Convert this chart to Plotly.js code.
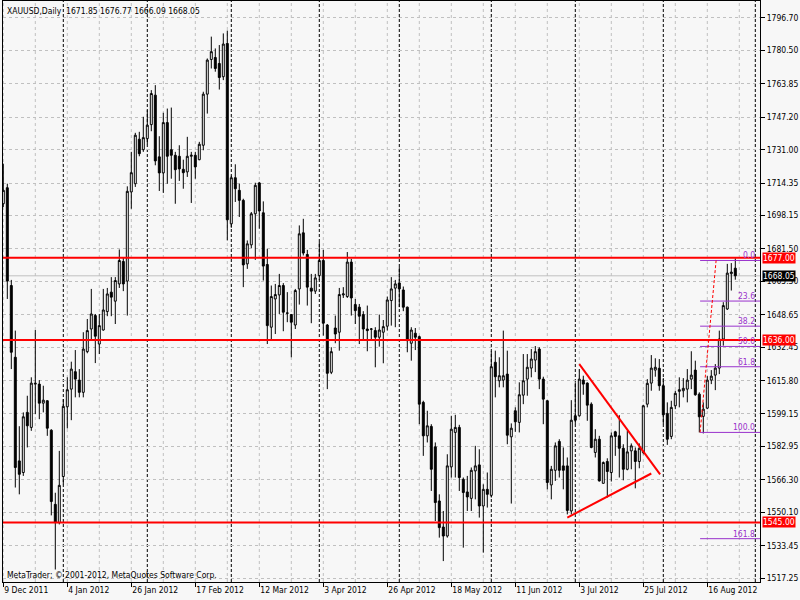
<!DOCTYPE html>
<html>
<head>
<meta charset="utf-8">
<script src="https://cdn.plot.ly/plotly-3.0.1.min.js"></script>
<style>
  html, body { margin: 0; padding: 0; background: #f7f7f7; }
  #chart { width: 800px; height: 600px; }
</style>
</head>
<body>
<div id="chart"></div>
<script>
// ---------------- DATA ----------------
const opens = [1704,1712,1663.2,1627.4,1575.7,1569.9,1599.9,1592.4,1614,1614,1604.5,1605.7,1591,1554,1544.9,1567.9,1602.7,1611.5,1620.2,1616,
1609.9,1630.2,1641.5,1648.2,1634,1641,1650.2,1659.9,1655.4,1664,1675.2,1665.4,1709.9,1714,1736.2,1731,1736.5,1743.5,1758.2,1727.4,
1719.4,1744.5,1731,1728.2,1727.7,1721.2,1719.9,1727.7,1728.2,1726,1733.2,1758.7,1776,1777,1774,1767.4,1784,1694,1717,1710.7,
1705.7,1674,1683.5,1699,1714.4,1699.5,1673.7,1642.4,1656.5,1658.5,1663.2,1649.5,1648.7,1643.5,1661.5,1689.5,1678.7,1661.9,1660.4,1668.2,
1675.7,1643.5,1619.9,1642,1639.9,1658.5,1657.7,1674.9,1653.7,1652.4,1648.7,1641.5,1641.4,1640.7,1637.4,1639.9,1642.9,1655.7,1661.9,1664.5,
1661,1652.4,1634.4,1639.4,1637.7,1604.9,1588.2,1592.9,1582.7,1555.7,1542.7,1538.2,1572.7,1589.9,1592.4,1566.5,1560.2,1557,1570.7,1573.7,
1553.2,1561.5,1558.5,1624.9,1615.7,1616,1619,1587.7,1600.7,1594.9,1608.5,1616.5,1622,1626,1631.5,1616.5,1605.7,1563.7,1571,1585.4,
1573.2,1573.2,1550.7,1598.2,1598.2,1616,1614.5,1604,1579.9,1586.5,1564.5,1575.4,1569.9,1590.2,1588.2,1582,1571.5,1580.7,1580.7,1575.4,
1579.9,1604,1614.5,1621,1621.9,1613.2,1599.4,1587.9,1603.2,1610.4,1610.7,1611.5,1616.5,1621,1609,1597.9,1602,1616,1618.5,1622,
1636.5,1651.5,1669.1,1671.85];
const highs = [1724,1714,1666,1640.7,1593,1599.9,1608.2,1617.4,1641,1616,1613.2,1606,1591.5,1559.8,1580.7,1606.5,1617.4,1625.2,1631,1621.5,
1639.9,1646.5,1661.5,1649,1649,1661.5,1662,1667.4,1667.4,1681.2,1677.4,1712.7,1729.9,1739.4,1739.9,1747.4,1750.7,1760.7,1763.2,1737.7,
1749.4,1751.5,1752,1729.9,1733.2,1726,1737.4,1729.9,1729.9,1734.9,1759.9,1776.5,1787.4,1781.5,1783.2,1789,1790.4,1718,1723.7,1714,
1706.5,1685.7,1699.9,1714.5,1714.9,1705.2,1681.5,1663.2,1664,1669,1664.4,1659.9,1649,1661.5,1693.2,1696.5,1681,1669,1669,1684.9,
1681,1644,1632.4,1648.2,1662,1662.4,1679.9,1676.5,1656.5,1654,1650.4,1653.2,1642,1642.4,1648.7,1646,1657.7,1667.4,1666,1672.4,
1662.7,1652.7,1642.4,1642,1638.2,1605.7,1600.7,1594,1584.9,1559,1550.7,1579,1598.2,1598.7,1593.7,1567.4,1568.2,1572.4,1583.2,1581.5,
1564,1569.9,1630.4,1630.7,1627.4,1640.7,1630.7,1594.4,1602.4,1614.9,1629,1629,1631.5,1633,1632.4,1617.7,1606,1573.2,1584.9,1586.5,
1582.4,1577.4,1606,1614.9,1621.5,1618.2,1614.9,1604.9,1591.5,1588.2,1575.4,1577,1589.9,1590.7,1598.5,1584,1590.7,1584.4,1582.4,1584.4,
1603.7,1616.5,1628.5,1626.9,1626.5,1617,1604.9,1605.7,1610.7,1617.4,1617,1621.5,1630.4,1625.7,1609.9,1604.9,1618,1621,1624,1640.7,
1654.9,1674,1674.4,1676.77];
const lows = [1702.4,1656.5,1621.5,1562.4,1559,1568.2,1582.4,1590.7,1599,1596.5,1599.9,1588.2,1548.5,1521.5,1544,1564,1591.9,1596,1607.4,1607.4,
1607.4,1629.4,1636.5,1624.5,1629,1640.7,1647.9,1647.9,1644,1662,1660.4,1648.2,1701.5,1712.4,1727.7,1729.9,1733.7,1740.2,1723.2,1710.4,
1709.4,1714,1716.5,1704,1715.4,1711.5,1717.4,1704.4,1716.5,1725.7,1730.7,1749,1771.5,1769.9,1761,1765.7,1685.7,1692,1704.9,1697.4,
1662.4,1671.5,1681.9,1676,1691.5,1665.7,1634,1635.7,1639,1649,1640.4,1644.9,1627.4,1641.5,1653.7,1678.2,1653.2,1644.4,1659,1666,
1638.2,1611.5,1619,1634.4,1630.7,1657,1657,1648.2,1644,1634,1636.5,1630.4,1636.5,1622.4,1632.7,1624.4,1640.7,1643.2,1642.4,1652.4,
1650.4,1629.9,1625.7,1631,1594,1578.2,1584.9,1560.7,1545.7,1537.4,1525.7,1537.4,1567.4,1567.4,1560.7,1532.4,1550.7,1550.7,1556.5,1547.4,
1529.9,1552.4,1557.4,1607.4,1612.4,1612.4,1584,1554.4,1590.2,1589.9,1604,1608.2,1617.4,1620,1611.5,1594,1561.5,1556.5,1565.7,1567.4,
1561.5,1549,1549,1594,1597.7,1608.7,1595.7,1582,1577.4,1565.4,1564.4,1557.4,1565.4,1578.2,1567.4,1566,1571,1571.5,1562,1572,
1579,1602.4,1610.7,1617.7,1610.7,1594,1583.7,1586.5,1601.5,1602.4,1607.4,1604.9,1611.5,1608.2,1589.9,1589.4,1601.5,1614,1611,1619,
1633.2,1651,1660.7,1666.09];
const closes = [1710.7,1665.4,1629.9,1572.4,1569,1597.7,1593.2,1614.5,1614.4,1604.5,1606,1592,1555.4,1544.9,1563.5,1602.9,1611.2,1621.5,1616.5,1609.9,
1631.5,1640.7,1649,1637.9,1643.2,1651,1659,1657.4,1665.7,1675.7,1664,1710.2,1719.5,1738.2,1729,1737,1743.2,1759,1725.4,1719.4,
1744.5,1727.7,1728.2,1721,1721.4,1719.5,1727.7,1728.2,1722.4,1733.7,1758.7,1775.7,1779.9,1771.5,1767,1783.7,1696,1717,1711.5,1705.7,
1673.5,1684,1699,1713.2,1700.4,1672.9,1643.2,1657.7,1658.7,1663.2,1649.9,1649.4,1644.9,1660.7,1689,1679.4,1662.4,1660.4,1667,1675.7,
1644.4,1619.4,1630.2,1639,1658.7,1659,1674.9,1657,1650.7,1647.9,1641.5,1640.7,1641.5,1637.4,1641,1642.7,1656,1661.5,1664,1661.5,
1652.4,1635.7,1641,1637.4,1604,1588.2,1593.2,1571.5,1554.9,1542.4,1538.2,1573.2,1591.5,1592.4,1567.4,1559.9,1557.7,1571,1573.2,1553.2,
1561.5,1559,1622.7,1617.7,1618.2,1618.2,1588.5,1592,1595.2,1608.7,1615.7,1622.4,1626.5,1630.2,1616.5,1606.5,1564.9,1571.5,1583.2,1571,
1571,1551,1596,1596,1616.5,1614,1603.5,1582.4,1586.5,1565.7,1574.9,1570.4,1588.2,1587.9,1582,1571.5,1580.2,1583.2,1575.4,1582,
1603.2,1614.4,1622,1622.4,1613.2,1598.7,1586.5,1602.4,1609.4,1611.2,1611.9,1616,1618.5,1608.7,1597.7,1601.5,1616,1618,1622,1636.5,
1653.2,1669.4,1669.9,1668.05];

// x-axis date labels (every 16 bars, starting at bar 0)
const dateLabels = ["9 Dec 2011","4 Jan 2012","26 Jan 2012","17 Feb 2012","12 Mar 2012","3 Apr 2012",
                    "26 Apr 2012","18 May 2012","11 Jun 2012","3 Jul 2012","25 Jul 2012","16 Aug 2012"];
const dateLabelBars = [0,16,32,48,64,80,96,112,128,144,160,176];
// bar indices where a new month starts (period separators)
const monthStartBars = [15,36,57,79,99,122,143,165,188];
// price-axis tick labels
const priceTicks = [1796.70,1780.50,1763.85,1747.20,1731.00,1714.35,1698.15,1681.50,1665.30,1648.65,
                    1632.45,1615.80,1599.15,1582.95,1566.30,1550.10,1533.45,1517.25];
// horizontal support / resistance levels
const levels = [1677.00, 1636.00, 1545.00];
const bidPrice = 1668.05;
// triangle trend lines: [bar0, price0, bar1, price1]
const trendLines = [[144.0, 1624.0, 164.2, 1569.0], [141.0, 1547.4, 162.0, 1569.4]];
// fibonacci retracement
const fibLow = 1589.9, fibHigh = 1675.7;
const fibLowBar = 174.2, fibHighBar = 178.2;
const fibRatios = [0, 23.6, 38.2, 50.0, 61.8, 100.0, 161.8];
const fibLabels = ["0.0","23.6","38.2","50.0","61.8","100.0","161.8"];
const titleText = "XAUUSD,Daily  1671.85 1676.77 1666.09 1668.05";
const copyrightText = "MetaTrader; © 2001-2012, MetaQuotes Software Corp.";

// ---------------- FONT PICK (narrow face so labels fit like the original) ----------------
function measure(font, txt) {
  const c = document.createElement('canvas').getContext('2d');
  c.font = font; return c.measureText(txt).width;
}
function installed(name) {
  const t = 'mmmmmwwwiii1796.70';
  return ['monospace', 'serif'].some(fb => measure("40px '" + name + "', " + fb, t) !== measure('40px ' + fb, t));
}
const candidates = ['Liberation Sans Narrow', 'DejaVu Sans Condensed', 'Liberation Sans'];
const family = candidates.find(installed) || 'Liberation Sans';
const FONT = "'" + family + "', 'Liberation Sans', Arial, sans-serif";
const w11 = measure("11px '" + family + "'", '1796.70');
const FS = Math.max(8, Math.min(11, Math.round(11 * 31.5 / w11 * 2) / 2));

// ---------------- CHART ----------------
const bars = opens.map((_, i) => i);
const xRange = [-0.075, 189.175];
const yRange = [1515.26, 1805.18];
const gridStep = 8;

const trace = {
  type: 'candlestick',
  x: bars, open: opens, high: highs, low: lows, close: closes,
  increasing: { line: { color: '#000000', width: 1 }, fillcolor: '#ffffff' },
  decreasing: { line: { color: '#000000', width: 1 }, fillcolor: '#000000' },
  whiskerwidth: 0,
  hoverinfo: 'skip',
  showlegend: false
};

const shapes = [];
for (let b = 0; b < xRange[1]; b += gridStep) {
  shapes.push({ type: 'line', xref: 'x', yref: 'paper', x0: b, x1: b, y0: 0, y1: 1,
    line: { color: '#c0c0c0', width: 1, dash: '3px,3px' }, layer: 'below' });
}
monthStartBars.forEach(b => shapes.push({
  type: 'line', xref: 'x', yref: 'paper', x0: b, x1: b, y0: 0, y1: 1,
  line: { color: '#000000', width: 1, dash: '3px,2px' }, layer: 'below'
}));
shapes.push({ type: 'line', xref: 'paper', yref: 'y', x0: 0, x1: 1, y0: bidPrice, y1: bidPrice,
  line: { color: '#c0c0c0', width: 1 }, layer: 'below' });
levels.forEach(p => shapes.push({
  type: 'line', xref: 'paper', yref: 'y', x0: 0, x1: 1, y0: p, y1: p,
  line: { color: '#ff0000', width: 2 }
}));
trendLines.forEach(t => shapes.push({
  type: 'line', xref: 'x', yref: 'y', x0: t[0], y0: t[1], x1: t[2], y1: t[3],
  line: { color: '#ff0000', width: 2 }
}));
const fibPrices = fibRatios.map(r => fibHigh - r / 100 * (fibHigh - fibLow));
fibPrices.forEach(p => shapes.push({
  type: 'line', xref: 'x', yref: 'y', x0: fibLowBar, x1: xRange[1], y0: p, y1: p,
  line: { color: '#9932cc', width: 1 }
}));
shapes.push({ type: 'line', xref: 'x', yref: 'y', x0: fibLowBar, y0: fibLow, x1: fibHighBar, y1: fibHigh,
  line: { color: '#ff0000', width: 1, dash: '3px,2px' } });

const annotations = [];
fibPrices.forEach((p, k) => annotations.push({
  xref: 'x', yref: 'y', x: xRange[1], y: p, xanchor: 'right', yanchor: 'bottom',
  text: fibLabels[k], showarrow: false, xshift: -3, yshift: -2,
  font: { family: FONT, size: FS, color: '#9932cc' }
}));
levels.forEach(p => annotations.push({
  xref: 'paper', yref: 'y', x: 1, y: p, xanchor: 'left', yanchor: 'middle',
  text: p.toFixed(2), showarrow: false, xshift: 2, bgcolor: '#ff0000', borderpad: 0,
  font: { family: FONT, size: FS, color: '#ffffff' }
}));
annotations.push({
  xref: 'paper', yref: 'y', x: 1, y: bidPrice, xanchor: 'left', yanchor: 'middle',
  text: bidPrice.toFixed(2), showarrow: false, xshift: 2, bgcolor: '#000000', borderpad: 0,
  font: { family: FONT, size: FS, color: '#ffffff' }
});
annotations.push({
  xref: 'paper', yref: 'paper', x: 0, y: 1, xanchor: 'left', yanchor: 'top',
  text: titleText, showarrow: false, xshift: 2, yshift: -3,
  font: { family: FONT, size: FS, color: '#000000' }
});
annotations.push({
  xref: 'paper', yref: 'paper', x: 0, y: 0, xanchor: 'left', yanchor: 'bottom',
  text: copyrightText, showarrow: false, xshift: 2, yshift: 0,
  font: { family: FONT, size: FS, color: '#000000' }
});

const layout = {
  width: 800, height: 600,
  margin: { l: 3, r: 40, t: 1, b: 18, autoexpand: false },
  paper_bgcolor: '#f7f7f7', plot_bgcolor: '#f7f7f7',
  font: { family: FONT, size: FS, color: '#000000' },
  showlegend: false,
  xaxis: {
    range: xRange, rangeslider: { visible: false }, fixedrange: true,
    tickmode: 'array', tickvals: dateLabelBars, ticktext: dateLabels, tickangle: 0,
    ticks: 'outside', ticklen: 4, tickcolor: '#000000', ticklabelposition: 'outside right',
    showgrid: false,
    showline: true, linecolor: '#000000', linewidth: 1, mirror: true, zeroline: false,
    tickfont: { family: FONT, size: FS, color: '#000000' }
  },
  yaxis: {
    range: yRange, side: 'right', fixedrange: true,
    tickmode: 'array', tickvals: priceTicks, ticktext: priceTicks.map(v => v.toFixed(2)),
    ticks: 'outside', ticklen: 4, tickcolor: '#000000',
    showgrid: true, gridcolor: '#c0c0c0', griddash: '3px,3px', gridwidth: 1,
    showline: true, linecolor: '#000000', linewidth: 1, mirror: true, zeroline: false,
    tickfont: { family: FONT, size: FS, color: '#000000' }
  },
  shapes: shapes,
  annotations: annotations
};

Plotly.newPlot('chart', [trace], layout, { staticPlot: true, displayModeBar: false });
</script>
</body>
</html>
